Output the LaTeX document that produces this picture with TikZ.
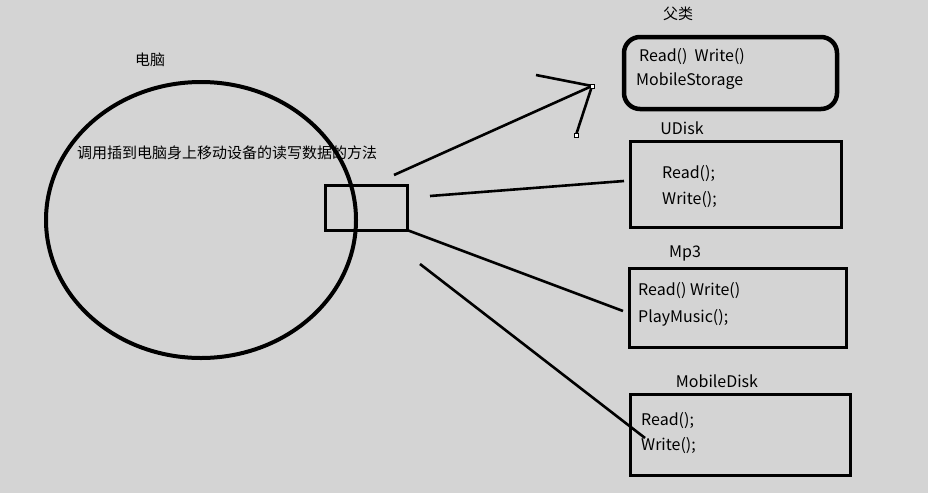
\documentclass[tikz,border=0pt]{standalone}
\usepackage{fontspec}
\setmainfont{Noto Sans CJK SC}
\usetikzlibrary{shapes.geometric}
\definecolor{bg}{RGB}{212,212,212}
\tikzset{
  txt/.style={anchor=west, inner sep=0pt, font=\fontsize{16}{16}\selectfont},
  cjk/.style={anchor=west, inner sep=0pt, font=\fontsize{15}{15}\selectfont},
  ttl/.style={anchor=center, inner sep=0pt, font=\fontsize{16}{16}\selectfont},
  boxline/.style={line width=3pt},
  conn/.style={line width=2.6pt},
  tick/.style={draw=black, fill=white, line width=0.6pt, minimum size=4pt, inner sep=0pt}
}
\begin{document}
\begin{tikzpicture}[x=1pt,y=-1pt]
\fill[bg] (0,0) rectangle (928,493);
\useasboundingbox (0,0) rectangle (928,493);
% computer
\node[ellipse, draw, line width=4pt, minimum width=310pt, minimum height=276pt, inner sep=0pt] (pc) at (201,220) {};
\node[cjk, anchor=center] (pcl) at (150,60) {电脑};
\node[cjk] (pct) at (77,153) {调用插到电脑身上移动设备的读写数据的方法};
\draw[boxline] (325,185) rectangle (407,230);
\coordinate (port) at (407,230);
% parent
\draw[line width=4.5pt, rounded corners=16pt] (624,37) rectangle (837,109);
\node[cjk, anchor=center] (pl) at (678,14) {父类};
\node[txt] at (639,57) {Read()\ \ Write()};
\node[txt] at (636,81) {MobileStorage};
% UDisk
\draw[boxline] (630,141) rectangle (841,227);
\node[ttl] at (682,128) {UDisk};
\node[txt] at (662,174) {Read();};
\node[txt] at (662,200) {Write();};
% Mp3
\draw[boxline] (629,268) rectangle (846,347);
\node[ttl] at (685,253) {Mp3};
\node[txt] at (638,291) {Read() Write()};
\node[txt] at (638,318) {PlayMusic();};
% MobileDisk
\draw[boxline] (630,394) rectangle (850,475);
\node[ttl] at (717,381) {MobileDisk};
\node[txt] at (641,421) {Read();};
\node[txt] at (641,446) {Write();};
% connectors
\coordinate (a1) at (394,175);
\coordinate (tip) at (592,86);
\coordinate (w1) at (536,75);
\coordinate (w2) at (576,135);
\draw[conn] (a1) -- (tip);
\draw[conn] (w1) -- (tip) -- (w2);
\node[tick] at (tip) {};
\node[tick] at (w2) {};
\coordinate (b1) at (430,196);
\coordinate (b2) at (624,181);
\draw[conn] (b1) -- (b2);
\coordinate (c2) at (623,311);
\draw[conn] (port) -- (c2);
\coordinate (d1) at (420,264);
\coordinate (d2) at (645,438);
\draw[conn] (d1) -- (d2);
\end{tikzpicture}
\end{document}
